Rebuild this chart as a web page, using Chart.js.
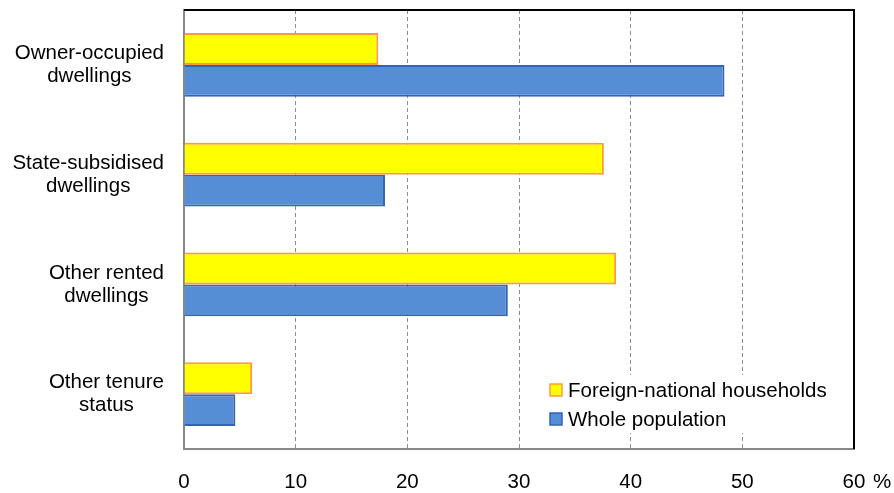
<!DOCTYPE html>
<html>
<head>
<meta charset="utf-8">
<script src="https://cdn.jsdelivr.net/npm/chart.js@4"></script>
<style>
  html, body { margin: 0; padding: 0; background: #fff; }
  #wrap { width: 894px; height: 493px; }
</style>
</head>
<body>
<div id="wrap"><canvas id="chart"></canvas></div>
<script>
const categories = [
  ['Owner-occupied', 'dwellings'],
  ['State-subsidised', 'dwellings'],
  ['Other rented', 'dwellings'],
  ['Other tenure', 'status']
]
const seriesNames = ['Foreign-national households', 'Whole population']
const foreignValues = [17.4, 37.6, 38.7, 6.1]
const wholeValues = [48.4, 18.0, 29.0, 4.6]
const xTicks = [0, 10, 20, 30, 40, 50, 60]

const FONT = '"Liberation Sans", Arial, sans-serif'
const SIZE = 20.5

// category labels: each block centered, blocks right-aligned next to the axis
const labelPlugin = {
  id: 'labels',
  afterDraw(chart) {
    const ctx = chart.ctx
    const y = chart.scales.y
    ctx.save()
    ctx.font = SIZE + 'px ' + FONT
    ctx.fillStyle = '#000'
    ctx.textAlign = 'center'
    ctx.textBaseline = 'middle'
    categories.forEach((lines, i) => {
      const cy = y.getPixelForValue(i)
      const w = Math.max(...lines.map(l => ctx.measureText(l).width))
      const cx = 164 - w / 2
      lines.forEach((l, j) => {
        ctx.fillText(l, cx, cy + (j - (lines.length - 1) / 2) * 23)
      })
    })
    // unit after last tick
    const x = chart.scales.x
    ctx.textAlign = 'left'
    ctx.fillText('%', x.getPixelForValue(60) + 19, 482)
    ctx.restore()
  }
}

// frame: black top and right border
const framePlugin = {
  id: 'frame',
  afterDatasetsDraw(chart) {
    const { ctx, chartArea: a } = chart
    ctx.save()
    ctx.strokeStyle = '#000'
    ctx.lineWidth = 2
    ctx.beginPath()
    ctx.moveTo(a.left, a.top)
    ctx.lineTo(a.right, a.top)
    ctx.lineTo(a.right, a.bottom)
    ctx.stroke()
    ctx.restore()
  }
}

// legend box inside the plot, bottom right
const legendPlugin = {
  id: 'innerLegend',
  afterDatasetsDraw(chart) {
    const ctx = chart.ctx
    ctx.save()
    ctx.fillStyle = '#fff'
    ctx.fillRect(542, 375, 300, 58)
    ctx.font = SIZE + 'px ' + FONT
    ctx.textBaseline = 'middle'
    ctx.textAlign = 'left'
    chart.data.datasets.forEach((ds, i) => {
      const cy = 390 + i * 29
      ctx.fillStyle = ds.backgroundColor
      ctx.fillRect(550, cy - 6, 12, 12)
      ctx.strokeStyle = ds.borderColor
      ctx.lineWidth = 1.5
      ctx.strokeRect(550, cy - 6, 12, 12)
      ctx.fillStyle = '#000'
      ctx.fillText(ds.label, 568, cy + 1)
    })
    ctx.restore()
  }
}

new Chart(document.getElementById('chart'), {
  type: 'bar',
  data: {
    labels: categories,
    datasets: [
      {
        label: seriesNames[0],
        data: foreignValues,
        backgroundColor: '#FFFF00',
        borderColor: '#FF9A3C',
        borderWidth: 2,
        categoryPercentage: 0.583,
        barPercentage: 1
      },
      {
        label: seriesNames[1],
        data: wholeValues,
        backgroundColor: '#558ED5',
        borderColor: '#3563B5',
        borderWidth: 2,
        categoryPercentage: 0.583,
        barPercentage: 1
      }
    ]
  },
  options: {
    indexAxis: 'y',
    responsive: true,
    maintainAspectRatio: false,
    animation: false,
    layout: { padding: { top: 10, right: 40, left: 0, bottom: 0 } },
    plugins: {
      legend: { display: false },
      tooltip: { enabled: false }
    },
    scales: {
      x: {
        min: 0,
        max: 60,
        afterBuildTicks: (s) => { s.ticks = xTicks.map(v => ({ value: v })) },
        afterFit: (s) => { s.height = 44 },
        grid: {
          color: (c) => (c.index === 0 || c.index === xTicks.length - 1) ? 'rgba(0,0,0,0)' : '#8c8c8c',
          lineWidth: 1,
          drawTicks: false
        },
        border: { display: true, color: '#888', width: 2, dash: [4, 3] },
        ticks: {
          color: '#000',
          font: { family: FONT, size: SIZE },
          padding: 21,
          maxRotation: 0
        }
      },
      y: {
        afterFit: (s) => { s.width = 184 },
        grid: { display: false, drawTicks: false },
        border: { display: true, color: '#888', width: 2 },
        ticks: { display: false }
      }
    }
  },
  plugins: [labelPlugin, framePlugin, legendPlugin]
})
</script>
</body>
</html>
